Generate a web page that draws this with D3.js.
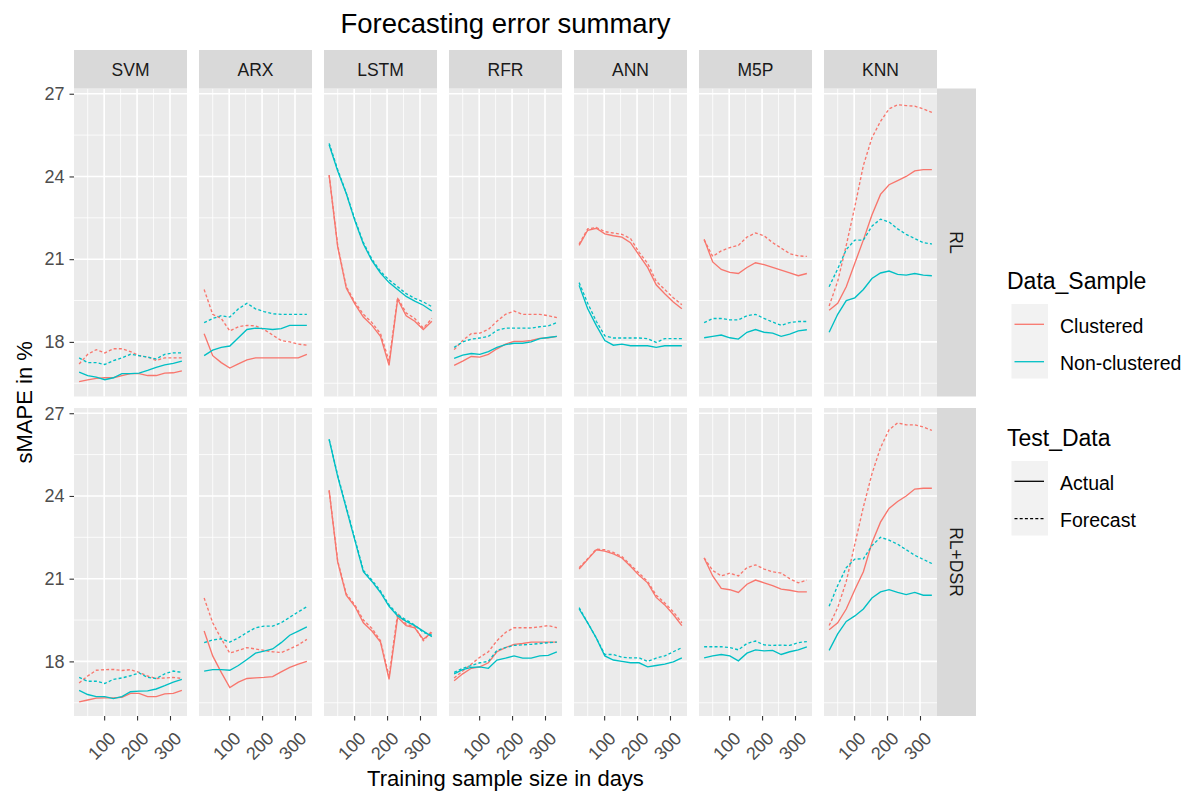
<!DOCTYPE html>
<html>
<head>
<meta charset="utf-8">
<script src="https://cdn.jsdelivr.net/npm/d3@7"></script>
<style>
  body { margin: 0; background: #fff; }
  text { font-family: "Liberation Sans", Arial, sans-serif; }
</style>
</head>
<body>
<svg id="chart" width="1193" height="797"></svg>
<script>
const methods = ['SVM', 'ARX', 'LSTM', 'RFR', 'ANN', 'M5P', 'KNN'];
const facets = ['RL', 'RL+DSR'];
const samples = ['Clustered', 'Non-clustered'];
const tests = ['Actual', 'Forecast'];
const days = [24, 50, 76, 102, 128, 154, 180, 206, 232, 258, 284, 310, 336];
const yTicks = [18, 21, 24, 27];
const xTicks = [100, 200, 300];

// RL row
const svm_rl_cl_act = [16.56, 16.62, 16.68, 16.7, 16.7, 16.78, 16.85, 16.85, 16.78, 16.78, 16.87, 16.88, 16.95];
const svm_rl_cl_fc  = [17.2, 17.55, 17.72, 17.6, 17.75, 17.75, 17.65, 17.5, 17.45, 17.33, 17.42, 17.42, 17.42];
const svm_rl_nc_act = [16.9, 16.78, 16.72, 16.63, 16.7, 16.85, 16.85, 16.87, 16.97, 17.08, 17.17, 17.22, 17.3];
const svm_rl_nc_fc  = [17.42, 17.25, 17.25, 17.18, 17.32, 17.42, 17.55, 17.5, 17.45, 17.38, 17.55, 17.6, 17.6];

const arx_rl_cl_act = [18.3, 17.5, 17.25, 17.05, 17.2, 17.35, 17.42, 17.42, 17.42, 17.42, 17.42, 17.42, 17.55];
const arx_rl_cl_fc  = [19.9, 19.0, 18.85, 18.4, 18.55, 18.6, 18.58, 18.45, 18.25, 18.05, 18.0, 17.92, 17.88];
const arx_rl_nc_act = [17.5, 17.7, 17.8, 17.85, 18.15, 18.45, 18.5, 18.48, 18.45, 18.48, 18.6, 18.6, 18.6];
const arx_rl_nc_fc  = [18.7, 18.85, 18.95, 18.9, 19.2, 19.4, 19.2, 19.1, 19.02, 19.0, 19.0, 19.0, 19.0];

const lstm_rl_cl_act = [24.05, 21.45, 19.95, 19.38, 18.9, 18.6, 18.2, 17.15, 19.55, 18.95, 18.75, 18.45, 18.75];
const lstm_rl_cl_fc  = [24.05, 21.5, 20.0, 19.45, 19.0, 18.7, 18.3, 17.3, 19.6, 19.05, 18.85, 18.5, 18.85];
const lstm_rl_nc_act = [25.15, 24.2, 23.38, 22.4, 21.55, 20.95, 20.5, 20.15, 19.9, 19.65, 19.48, 19.33, 19.12];
const lstm_rl_nc_fc  = [25.2, 24.25, 23.4, 22.45, 21.6, 21.0, 20.55, 20.25, 20.0, 19.75, 19.58, 19.45, 19.28];

const rfr_rl_cl_act = [17.15, 17.3, 17.47, 17.45, 17.55, 17.75, 17.92, 18.02, 18.02, 18.05, 18.13, 18.15, 18.2];
const rfr_rl_cl_fc  = [17.72, 18.05, 18.3, 18.32, 18.45, 18.75, 19.0, 19.12, 19.0, 19.0, 19.0, 18.95, 18.88];
const rfr_rl_nc_act = [17.4, 17.52, 17.58, 17.55, 17.65, 17.8, 17.9, 17.95, 17.95, 18.0, 18.12, 18.16, 18.2];
const rfr_rl_nc_fc  = [17.8, 18.0, 18.1, 18.14, 18.2, 18.42, 18.5, 18.5, 18.5, 18.5, 18.55, 18.58, 18.7];

const ann_rl_cl_act = [21.5, 22.05, 22.12, 21.92, 21.85, 21.8, 21.6, 21.15, 20.7, 20.07, 19.75, 19.45, 19.2];
const ann_rl_cl_fc  = [21.55, 22.1, 22.15, 22.0, 21.95, 21.9, 21.75, 21.25, 20.85, 20.2, 19.9, 19.6, 19.35];
const ann_rl_nc_act = [20.05, 19.2, 18.6, 18.05, 17.88, 17.92, 17.86, 17.86, 17.86, 17.8, 17.86, 17.86, 17.86];
const ann_rl_nc_fc  = [20.15, 19.4, 18.75, 18.22, 18.14, 18.14, 18.14, 18.14, 18.12, 17.98, 18.12, 18.12, 18.12];

const m5p_rl_cl_act = [21.72, 20.9, 20.63, 20.52, 20.48, 20.7, 20.87, 20.8, 20.7, 20.6, 20.5, 20.4, 20.48];
const m5p_rl_cl_fc  = [21.7, 21.1, 21.3, 21.42, 21.5, 21.8, 21.95, 21.85, 21.6, 21.4, 21.2, 21.12, 21.1];
const m5p_rl_nc_act = [18.15, 18.2, 18.25, 18.15, 18.1, 18.35, 18.45, 18.35, 18.32, 18.2, 18.28, 18.4, 18.44];
const m5p_rl_nc_fc  = [18.7, 18.85, 18.85, 18.8, 18.8, 18.95, 19.0, 18.85, 18.72, 18.6, 18.7, 18.74, 18.74];

const knn_rl_cl_act = [19.15, 19.4, 20.0, 20.85, 21.7, 22.6, 23.35, 23.7, 23.85, 24.0, 24.2, 24.25, 24.25];
const knn_rl_cl_fc  = [19.3, 20.2, 21.5, 22.9, 24.4, 25.4, 26.0, 26.45, 26.6, 26.57, 26.55, 26.45, 26.32];
const knn_rl_nc_act = [18.35, 19.0, 19.5, 19.6, 19.9, 20.3, 20.5, 20.57, 20.45, 20.42, 20.48, 20.42, 20.4];
const knn_rl_nc_fc  = [20.0, 20.65, 21.35, 21.69, 21.69, 22.2, 22.45, 22.35, 22.1, 21.9, 21.75, 21.6, 21.55];

// RL+DSR row
const svm_dsr_cl_act = [16.53, 16.6, 16.67, 16.68, 16.68, 16.7, 16.84, 16.84, 16.72, 16.72, 16.82, 16.84, 16.95];
const svm_dsr_cl_fc  = [17.22, 17.47, 17.68, 17.7, 17.71, 17.67, 17.7, 17.6, 17.47, 17.38, 17.4, 17.42, 17.38];
const svm_dsr_nc_act = [16.95, 16.8, 16.72, 16.72, 16.65, 16.72, 16.9, 16.92, 16.93, 17.0, 17.12, 17.25, 17.35];
const svm_dsr_nc_fc  = [17.42, 17.28, 17.28, 17.2, 17.35, 17.4, 17.48, 17.58, 17.42, 17.38, 17.55, 17.65, 17.6];

const arx_dsr_cl_act = [19.1, 18.2, 17.6, 17.05, 17.25, 17.38, 17.4, 17.42, 17.45, 17.62, 17.78, 17.9, 18.0];
const arx_dsr_cl_fc  = [20.3, 19.4, 18.82, 18.3, 18.4, 18.5, 18.45, 18.4, 18.35, 18.32, 18.45, 18.6, 18.8];
const arx_dsr_nc_act = [17.65, 17.7, 17.7, 17.68, 17.85, 18.07, 18.3, 18.37, 18.45, 18.68, 18.95, 19.1, 19.25];
const arx_dsr_nc_fc  = [18.68, 18.78, 18.82, 18.7, 18.85, 19.05, 19.22, 19.28, 19.28, 19.4, 19.6, 19.8, 19.98];

const lstm_dsr_cl_act = [24.2, 21.6, 20.4, 20.0, 19.4, 19.1, 18.7, 17.35, 19.6, 19.3, 19.22, 18.8, 19.05];
const lstm_dsr_cl_fc  = [24.2, 21.65, 20.45, 20.05, 19.5, 19.2, 18.75, 17.45, 19.75, 19.35, 19.25, 18.75, 19.1];
const lstm_dsr_nc_act = [26.05, 24.7, 23.55, 22.4, 21.25, 20.9, 20.5, 20.0, 19.65, 19.45, 19.3, 19.1, 18.9];
const lstm_dsr_nc_fc  = [26.05, 24.75, 23.6, 22.45, 21.3, 20.95, 20.55, 20.05, 19.7, 19.5, 19.32, 19.05, 18.95];

const rfr_dsr_cl_act = [17.3, 17.55, 17.75, 17.8, 17.95, 18.35, 18.5, 18.62, 18.65, 18.7, 18.7, 18.7, 18.7];
const rfr_dsr_cl_fc  = [17.4, 17.65, 17.9, 18.15, 18.35, 18.75, 19.05, 19.22, 19.22, 19.22, 19.25, 19.3, 19.22];
const rfr_dsr_nc_act = [17.55, 17.7, 17.78, 17.8, 17.75, 18.05, 18.12, 18.2, 18.12, 18.12, 18.2, 18.22, 18.35];
const rfr_dsr_nc_fc  = [17.6, 17.75, 17.85, 17.95, 18.0, 18.4, 18.5, 18.58, 18.6, 18.62, 18.65, 18.68, 18.7];

const ann_dsr_cl_act = [21.35, 21.7, 22.05, 22.0, 21.9, 21.75, 21.45, 21.12, 20.85, 20.32, 20.05, 19.7, 19.3];
const ann_dsr_cl_fc  = [21.4, 21.72, 22.07, 22.05, 21.95, 21.8, 21.5, 21.2, 20.9, 20.4, 20.12, 19.8, 19.4];
const ann_dsr_nc_act = [19.9, 19.4, 18.85, 18.2, 18.05, 18.0, 17.95, 17.95, 17.8, 17.85, 17.9, 17.98, 18.13];
const ann_dsr_nc_fc  = [19.95, 19.4, 18.85, 18.25, 18.25, 18.15, 18.13, 18.13, 18.0, 18.12, 18.2, 18.35, 18.5];

const m5p_dsr_cl_act = [21.75, 21.1, 20.65, 20.6, 20.5, 20.8, 20.95, 20.85, 20.75, 20.62, 20.58, 20.52, 20.52];
const m5p_dsr_cl_fc  = [21.75, 21.3, 21.1, 21.2, 21.1, 21.4, 21.5, 21.35, 21.25, 21.2, 21.0, 20.85, 20.95];
const m5p_dsr_nc_act = [18.13, 18.2, 18.25, 18.2, 18.02, 18.3, 18.42, 18.38, 18.4, 18.25, 18.35, 18.42, 18.53];
const m5p_dsr_nc_fc  = [18.53, 18.53, 18.53, 18.5, 18.42, 18.65, 18.74, 18.6, 18.58, 18.59, 18.58, 18.68, 18.72];

const knn_dsr_cl_act = [19.15, 19.4, 19.9, 20.6, 21.25, 22.3, 23.05, 23.55, 23.8, 24.0, 24.25, 24.28, 24.28];
const knn_dsr_cl_fc  = [19.3, 19.95, 20.9, 22.25, 23.6, 24.8, 25.75, 26.4, 26.65, 26.58, 26.58, 26.5, 26.38];
const knn_dsr_nc_act = [18.4, 19.0, 19.45, 19.65, 19.9, 20.3, 20.52, 20.6, 20.5, 20.42, 20.5, 20.4, 20.4];
const knn_dsr_nc_fc  = [20.0, 20.75, 21.4, 21.71, 21.72, 22.2, 22.5, 22.4, 22.25, 22.05, 21.85, 21.7, 21.55];

// method, facet, then Clustered actual/forecast, Non-clustered actual/forecast
const panelTable = [
  ['SVM', 'RL', svm_rl_cl_act, svm_rl_cl_fc, svm_rl_nc_act, svm_rl_nc_fc],
  ['ARX', 'RL', arx_rl_cl_act, arx_rl_cl_fc, arx_rl_nc_act, arx_rl_nc_fc],
  ['LSTM', 'RL', lstm_rl_cl_act, lstm_rl_cl_fc, lstm_rl_nc_act, lstm_rl_nc_fc],
  ['RFR', 'RL', rfr_rl_cl_act, rfr_rl_cl_fc, rfr_rl_nc_act, rfr_rl_nc_fc],
  ['ANN', 'RL', ann_rl_cl_act, ann_rl_cl_fc, ann_rl_nc_act, ann_rl_nc_fc],
  ['M5P', 'RL', m5p_rl_cl_act, m5p_rl_cl_fc, m5p_rl_nc_act, m5p_rl_nc_fc],
  ['KNN', 'RL', knn_rl_cl_act, knn_rl_cl_fc, knn_rl_nc_act, knn_rl_nc_fc],
  ['SVM', 'RL+DSR', svm_dsr_cl_act, svm_dsr_cl_fc, svm_dsr_nc_act, svm_dsr_nc_fc],
  ['ARX', 'RL+DSR', arx_dsr_cl_act, arx_dsr_cl_fc, arx_dsr_nc_act, arx_dsr_nc_fc],
  ['LSTM', 'RL+DSR', lstm_dsr_cl_act, lstm_dsr_cl_fc, lstm_dsr_nc_act, lstm_dsr_nc_fc],
  ['RFR', 'RL+DSR', rfr_dsr_cl_act, rfr_dsr_cl_fc, rfr_dsr_nc_act, rfr_dsr_nc_fc],
  ['ANN', 'RL+DSR', ann_dsr_cl_act, ann_dsr_cl_fc, ann_dsr_nc_act, ann_dsr_nc_fc],
  ['M5P', 'RL+DSR', m5p_dsr_cl_act, m5p_dsr_cl_fc, m5p_dsr_nc_act, m5p_dsr_nc_fc],
  ['KNN', 'RL+DSR', knn_dsr_cl_act, knn_dsr_cl_fc, knn_dsr_nc_act, knn_dsr_nc_fc],
];

const color = d3.scaleOrdinal().domain(samples).range(['#F8766D', '#00BFC4']);
const dash = d3.scaleOrdinal().domain(tests).range(['none', '3,2.2']);

// layout
const left = 74, panelW = 113, gapX = 12;
const stripTop = 50, stripH = 38.5;
const rowTop = [88.5, 408], panelH = 308;
const sideW = 39;
const panelsRight = left + methods.length * panelW + (methods.length - 1) * gapX;

const x = d3.scaleLinear().domain([8.4, 351.6]).range([0, panelW]);
const y = d3.scaleLinear().domain([16.02, 27.19]).range([panelH, 0]);

const svg = d3.select('#chart');

svg.append('text')
  .attr('x', (left + panelsRight) / 2).attr('y', 33)
  .attr('text-anchor', 'middle')
  .attr('font-size', 27.5).attr('fill', '#000')
  .text('Forecasting error summary');

const line = d3.line().x(d => x(d.day)).y(d => y(d.v));

facets.forEach((facet, r) => {
  methods.forEach((method, c) => {
    const g = svg.append('g')
      .attr('transform', `translate(${left + c * (panelW + gapX)}, ${rowTop[r]})`);

    g.append('rect').attr('width', panelW).attr('height', panelH).attr('fill', '#EBEBEB');

    // minor grid
    [50, 150, 250].forEach(v => g.append('line')
      .attr('x1', x(v)).attr('x2', x(v)).attr('y1', 0).attr('y2', panelH)
      .attr('stroke', '#fff').attr('stroke-width', 0.8));
    [16.5, 19.5, 22.5, 25.5].forEach(v => g.append('line')
      .attr('x1', 0).attr('x2', panelW).attr('y1', y(v)).attr('y2', y(v))
      .attr('stroke', '#fff').attr('stroke-width', 0.8));
    // major grid
    xTicks.forEach(v => g.append('line')
      .attr('x1', x(v)).attr('x2', x(v)).attr('y1', 0).attr('y2', panelH)
      .attr('stroke', '#fff').attr('stroke-width', 1.6));
    yTicks.forEach(v => g.append('line')
      .attr('x1', 0).attr('x2', panelW).attr('y1', y(v)).attr('y2', y(v))
      .attr('stroke', '#fff').attr('stroke-width', 1.6));

    const row = panelTable.find(p => p[0] === method && p[1] === facet);
    const groups = [
      ['Clustered', 'Actual', row[2]],
      ['Clustered', 'Forecast', row[3]],
      ['Non-clustered', 'Actual', row[4]],
      ['Non-clustered', 'Forecast', row[5]],
    ];
    groups.forEach(([sample, test, vals]) => {
      g.append('path')
        .datum(vals.map((v, i) => ({ day: days[i], v })))
        .attr('d', line)
        .attr('fill', 'none')
        .attr('stroke', color(sample))
        .attr('stroke-width', 1.35)
        .attr('stroke-dasharray', dash(test));
    });

    // top strips
    if (r === 0) {
      svg.append('rect')
        .attr('x', left + c * (panelW + gapX)).attr('y', stripTop)
        .attr('width', panelW).attr('height', stripH).attr('fill', '#D9D9D9');
      svg.append('text')
        .attr('x', left + c * (panelW + gapX) + panelW / 2).attr('y', stripTop + stripH / 2 + 6.3)
        .attr('text-anchor', 'middle').attr('font-size', 17.5).attr('fill', '#1A1A1A')
        .text(method);
    }

    // y axis on first column
    if (c === 0) {
      const ya = g.append('g').call(d3.axisLeft(y).tickValues(yTicks).tickSize(4.5).tickPadding(5));
      ya.select('.domain').remove();
      ya.selectAll('line').attr('stroke', '#333').attr('stroke-width', 1.1);
      ya.selectAll('text').attr('font-size', 18).attr('fill', '#4D4D4D')
        .attr('font-family', '"Liberation Sans", Arial, sans-serif');
    }

    // x axis on bottom row
    if (r === facets.length - 1) {
      const xa = g.append('g').attr('transform', `translate(0, ${panelH})`)
        .call(d3.axisBottom(x).tickValues(xTicks).tickSize(4.5).tickFormat(d3.format('d')));
      xa.select('.domain').remove();
      xa.selectAll('line').attr('stroke', '#333').attr('stroke-width', 1.1);
      xa.selectAll('text')
        .attr('font-size', 18).attr('fill', '#4D4D4D')
        .attr('font-family', '"Liberation Sans", Arial, sans-serif')
        .attr('text-anchor', 'end')
        .attr('y', 0).attr('dy', '0.72em')
        .attr('transform', 'translate(3, 14.5) rotate(-45)');
    }
  });

  // right strips
  const sx = panelsRight;
  svg.append('rect')
    .attr('x', sx).attr('y', rowTop[r]).attr('width', sideW).attr('height', panelH)
    .attr('fill', '#D9D9D9');
  svg.append('text')
    .attr('transform', `translate(${sx + sideW / 2 - 6.3}, ${rowTop[r] + panelH / 2}) rotate(90)`)
    .attr('text-anchor', 'middle').attr('font-size', 17.5).attr('fill', '#1A1A1A')
    .text(facet);
});

// axis titles
svg.append('text')
  .attr('x', (left + panelsRight) / 2).attr('y', 786)
  .attr('text-anchor', 'middle').attr('font-size', 22).attr('fill', '#000')
  .text('Training sample size in days');

svg.append('text')
  .attr('transform', `translate(32, ${(rowTop[0] + rowTop[1] + panelH) / 2}) rotate(-90)`)
  .attr('text-anchor', 'middle').attr('font-size', 22).attr('fill', '#000')
  .text('sMAPE in %');

// legends
const legendX = 1007;
function drawLegend(title, top, items, styleFn) {
  const lg = svg.append('g').attr('transform', `translate(${legendX}, ${top})`);
  lg.append('text').attr('x', 0).attr('y', 0)
    .attr('font-size', 23).attr('fill', '#000').text(title);
  lg.append('rect').attr('x', 4.5).attr('y', 15).attr('width', 36.5).attr('height', 74.5)
    .attr('fill', '#F2F2F2');
  items.forEach((it, i) => {
    const ky = 35.3 + i * 37.4;
    const ln = lg.append('line').attr('x1', 7.5).attr('x2', 37).attr('y1', ky).attr('y2', ky)
      .attr('stroke-width', 1.3);
    styleFn(ln, it);
    lg.append('text').attr('x', 53).attr('y', ky + 8.3)
      .attr('font-size', 19.5).attr('fill', '#000').text(it);
  });
}
drawLegend('Data_Sample', 289, samples, (ln, it) => ln.attr('stroke', color(it)));
drawLegend('Test_Data', 446, tests, (ln, it) => ln.attr('stroke', '#000').attr('stroke-dasharray', dash(it)));
</script>
</body>
</html>
